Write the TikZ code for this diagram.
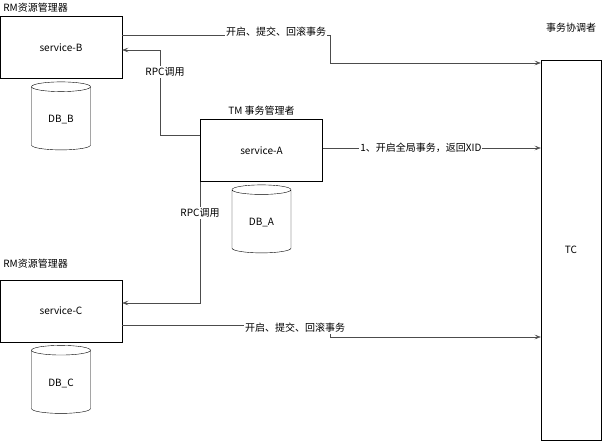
\documentclass[tikz,border=0pt]{standalone}
\usepackage{fontspec}
\setmainfont{Noto Sans CJK SC}
\usetikzlibrary{shapes.geometric, arrows.meta, positioning}

\begin{document}
\begin{tikzpicture}[
    x=1pt, y=-1pt,
    font=\fontsize{10}{12}\selectfont,
    box/.style={rectangle, draw, minimum width=122pt, minimum height=62pt, align=center},
    db/.style={cylinder, draw, shape border rotate=90, aspect=0.3, minimum width=59pt, minimum height=68pt},
    arrow/.style={-{Stealth[length=2.2mm, inset=1mm]}, draw=black!70},
    lbl/.style={fill=white, inner sep=1pt}
]
    \useasboundingbox (0,0) rectangle (611,441);
    \node[box] (svcB) at (61,47.5) {service-B};
    \node[db, below=3pt of svcB.south, anchor=north] (dbB) {DB\_B};
    \node[box] (svcA) at (261.5,150.5) {service-A};
    \node[db, below=3pt of svcA.south, anchor=north] (dbA) {DB\_A};
    \node[box] (svcC) at (61,311) {service-C};
    \node[db, below=3pt of svcC.south, anchor=north] (dbC) {DB\_C};
    \node[rectangle, draw, minimum width=60pt, minimum height=380pt] (tc) at (571,250) {TC};

    \node[above=0pt of svcB.north west, anchor=south west] (rmB) {RM资源管理器};
    \node[above=0pt of svcC.north west, anchor=south west, yshift=8pt] (rmC) {RM资源管理器};
    \node[above=0pt of svcA.north] (tm) {TM 事务管理者};
    \node[above=24pt of tc.north] (tcl) {事务协调者};

    % rpc calls
    \coordinate (bendB) at (160,50);
    \draw[arrow] (svcA.west |- 0,135) -| (bendB) -- (svcB.east |- bendB);
    \node[lbl] (rpcB) at (165,72) {RPC调用};
    \draw[arrow] (svcA.south west) |- (svcC.east |- 0,303);
    \node[lbl] (rpcC) at (200,213) {RPC调用};
    % transactions
    \draw[arrow] (svcB.east |- 0,35) -- (330,35) -- (330,63) -- (tc.west |- 0,63);
    \node[lbl] (txB) at (276,32) {开启、提交、回滚事务};
    \draw[arrow] (svcA.east |- 0,148) -- (tc.west |- 0,148) node[pos=0.45, lbl] (xid) {1、开启全局事务，返回XID};
    \draw[arrow] (svcC.east |- 0,325) -- (330,325) -- (330,337) -- (tc.west |- 0,337);
    \node[lbl] (txC) at (295,328) {开启、提交、回滚事务};
\end{tikzpicture}
\end{document}
